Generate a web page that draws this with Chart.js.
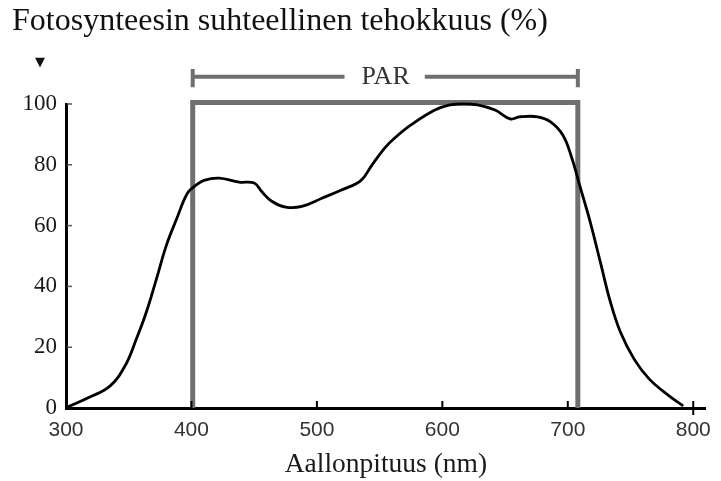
<!DOCTYPE html>
<html>
<head>
<meta charset="utf-8">
<script src="https://cdn.jsdelivr.net/npm/chart.js@4.4.1/dist/chart.umd.min.js"></script>
<style>
  html, body { margin: 0; padding: 0; background: #ffffff; }
  #wrap { width: 721px; height: 481px; }
</style>
</head>
<body>
<div id="wrap"><canvas id="c" width="721" height="481"></canvas></div>
<script>
// ---- data ----
const wavelength = [301,319,335,347,356,364,372,380,388,397,404,410,422,438,450,456,464,475,488,504,520,535,544,554,562,575,594,606,617,628,642,654,662,676,686,696,703,710,718,726,734,742,753,765,781,792];
const efficiency = [0.3,3.6,7.2,13.8,22.6,31.5,42.3,53.5,62,70.8,73.4,74.9,75.6,74.3,74,71.2,68,66.1,66.3,69,71.8,74.8,80,85.5,88.8,93.1,98,99.7,100,99.7,98,95.1,95.8,95.8,94.2,89.8,82.5,72.5,61,47.9,34.8,24.9,16,9.5,3.9,0.7];
const xTickValues = [300,400,500,600,700,800];
const yTickValues = [0,20,40,60,80,100];
const parRange = [401, 708];      // PAR band, nm
const parBoxTop = 100.5;          // box top, %
const parArrowLevel = 109;        // bracket level, %
const parLabelGap = [522, 586];   // gap for "PAR" text, nm
const titleText = 'Fotosynteesin suhteellinen tehokkuus (%)';
const xTitleText = 'Aallonpituus (nm)';
const parText = 'PAR';
const markerText = '\u25BC';

const curve = wavelength.map((w, i) => ({ x: w, y: efficiency[i] }));
const box = [
  { x: parRange[0], y: 0 }, { x: parRange[0], y: parBoxTop },
  { x: parRange[1], y: parBoxTop }, { x: parRange[1], y: 0 }
];
const bracket = [
  { x: parRange[0], y: parArrowLevel }, { x: parLabelGap[0], y: parArrowLevel },
  { x: (parLabelGap[0] + parLabelGap[1]) / 2, y: null },
  { x: parLabelGap[1], y: parArrowLevel }, { x: parRange[1], y: parArrowLevel }
];
const caps = [
  { x: parRange[0], y: parArrowLevel - 3.5 }, { x: parRange[0], y: parArrowLevel + 2.5 },
  { x: (parRange[0] + parRange[1]) / 2, y: null },
  { x: parRange[1], y: parArrowLevel - 3.5 }, { x: parRange[1], y: parArrowLevel + 2.5 }
];

const GRAY = '#6f6f6f';

const decor = {
  id: 'decor',
  afterDraw(chart) {
    const ctx = chart.ctx;
    const xs = chart.scales.x, ys = chart.scales.y;
    ctx.save();
    // title
    ctx.fillStyle = '#111';
    ctx.font = '32px "Liberation Serif", "Times New Roman", serif';
    ctx.textAlign = 'left';
    ctx.textBaseline = 'middle';
    ctx.fillText(titleText, 12, 22);
    // marker
    ctx.font = '13px "DejaVu Sans", sans-serif';
    ctx.textAlign = 'center';
    ctx.fillText(markerText, 40, 63);
    // PAR label
    ctx.fillStyle = '#333';
    ctx.font = '26px "Liberation Serif", serif';
    ctx.fillText(parText, (xs.getPixelForValue(parLabelGap[0]) + xs.getPixelForValue(parLabelGap[1])) / 2 + 1, ys.getPixelForValue(parArrowLevel) + 1);
    // inner tick marks
    ctx.strokeStyle = '#555';
    ctx.lineWidth = 1.5;
    const x0 = chart.chartArea.left, y0 = chart.chartArea.bottom;
    ys.ticks.forEach(t => {
      if (t.value === 0) return;
      const py = ys.getPixelForValue(t.value);
      ctx.beginPath(); ctx.moveTo(x0 + 1, py); ctx.lineTo(x0 + 6, py); ctx.stroke();
    });
    ctx.strokeStyle = '#000';
    ctx.lineWidth = 2;
    xs.ticks.forEach(t => {
      if (t.value === 300) return;
      const px = xs.getPixelForValue(t.value);
      const below = t.value === 800 ? 7 : 0;
      ctx.beginPath(); ctx.moveTo(px, y0 - 7); ctx.lineTo(px, y0 + below); ctx.stroke();
    });
    ctx.restore();
  }
};

new Chart(document.getElementById('c'), {
  type: 'line',
  data: {
    datasets: [
      { data: box, borderColor: GRAY, borderWidth: 5, pointRadius: 0, tension: 0, fill: false, clip: false, order: 2, borderJoinStyle: 'miter' },
      { data: bracket, borderColor: GRAY, borderWidth: 4, pointRadius: 0, tension: 0, fill: false, clip: false, spanGaps: false, order: 2 },
      { data: caps, borderColor: GRAY, borderWidth: 4, pointRadius: 0, tension: 0, fill: false, clip: false, spanGaps: false, order: 2 },
      { data: curve, borderColor: '#000', borderWidth: 2.8, pointRadius: 0, tension: 0.4, fill: false, clip: false, order: 1 }
    ]
  },
  options: {
    responsive: false,
    animation: false,
    layout: { padding: { top: 104, right: 12, left: 0, bottom: 0 } },
    plugins: { legend: { display: false }, title: { display: false }, tooltip: { enabled: false } },
    scales: {
      x: {
        type: 'linear', min: 300, max: 810,
        afterBuildTicks(s) { s.ticks = xTickValues.map(v => ({ value: v })); },
        afterFit(s) { s.height = 73; },
        grid: { display: false, drawTicks: false },
        border: { display: true, color: '#000', width: 3 },
        ticks: { padding: 10, color: '#333', font: { family: '"Liberation Sans", Arial, sans-serif', size: 21 }, maxRotation: 0 },
        title: { display: true, text: xTitleText, color: '#1a1a1a', font: { family: '"Liberation Serif", serif', size: 27.5 }, padding: { top: 0, bottom: 0 } }
      },
      y: {
        type: 'linear', min: 0, max: 100,
        afterBuildTicks(s) { s.ticks = yTickValues.map(v => ({ value: v })); },
        afterFit(s) { s.width = 66; },
        grid: { display: false, drawTicks: false },
        border: { display: true, color: '#000', width: 3 },
        ticks: { padding: 9, color: '#1a1a1a', font: { family: '"Liberation Serif", serif', size: 23 } }
      }
    }
  },
  plugins: [decor]
});
</script>
</body>
</html>
